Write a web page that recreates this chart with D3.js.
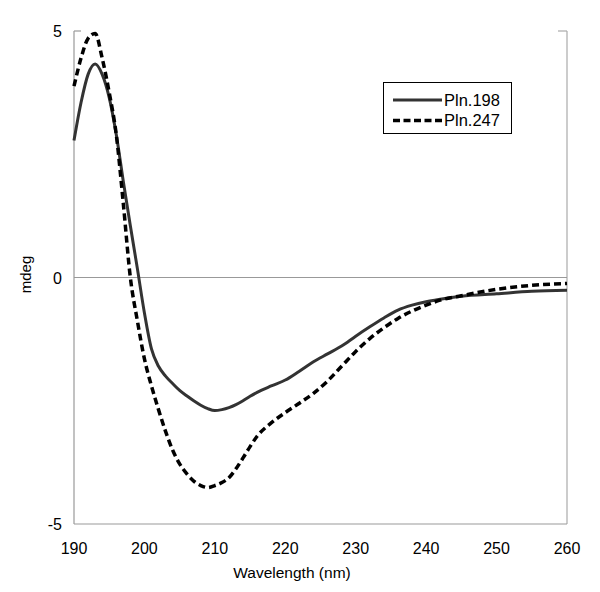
<!DOCTYPE html>
<html>
<head>
<meta charset="utf-8">
<script src="https://cdn.jsdelivr.net/npm/d3@7"></script>
<style>
  body { margin: 0; background: #fff; }
  text { font-family: "Liberation Sans", Arial, sans-serif; fill: #000; }
</style>
</head>
<body>
<script>
        // wavelengths (nm) and CD readings (mdeg)
        let wl198 = [190,191,192,193,194,195,196,197,198,199,200,201,202,203,204,205,206,207,208,209,210,211,212,213,214,215,216,218,220,222,224,226,228,230,232,234,236,238,240,242,245,250,255,260];
        let pln198 = [2.78,3.55,4.12,4.33,4.12,3.65,2.9,1.95,1.05,0.18,-0.72,-1.45,-1.8,-2.0,-2.15,-2.29,-2.4,-2.5,-2.59,-2.66,-2.7,-2.68,-2.64,-2.58,-2.5,-2.41,-2.33,-2.2,-2.08,-1.9,-1.71,-1.55,-1.39,-1.19,-1.0,-0.82,-0.66,-0.56,-0.49,-0.44,-0.38,-0.33,-0.28,-0.26];

        let wl247 = [190,191,192,193,194,195,196,197,198,199,200,201,202,203,204,205,206,207,208,209,210,211,212,213,214,215,216,218,220,222,224,226,228,230,232,234,236,238,240,242,245,250,255,260];
        let pln247 = [3.88,4.45,4.85,4.95,4.45,3.75,2.9,1.5,0.0,-0.88,-1.65,-2.2,-2.68,-3.12,-3.5,-3.78,-3.98,-4.13,-4.22,-4.26,-4.22,-4.16,-4.06,-3.88,-3.66,-3.43,-3.22,-2.95,-2.74,-2.55,-2.35,-2.1,-1.8,-1.5,-1.24,-1.02,-0.83,-0.68,-0.56,-0.46,-0.37,-0.24,-0.16,-0.12];

        let xTicks = [190,200,210,220,230,240,250,260];
        let yTicks = [-5,0,5];
        let seriesNames = ["Pln.198", "Pln.247"];

        let pLeft = 74, pRight = 567, pTop = 31, pBottom = 524;

        let svg = d3.select("body").append("svg")
            .attr("width", 600)
            .attr("height", 592);

        let x = d3.scaleLinear().domain([190,260]).range([pLeft,pRight]);
        let y = d3.scaleLinear().domain([-5,5]).range([pBottom,pTop]);

        // frame: left axis, bottom axis, right border, zero line
        svg.append("line").attr("x1", pLeft).attr("x2", pLeft).attr("y1", pTop).attr("y2", pBottom)
            .attr("stroke", "#999").attr("stroke-width", 1.2);
        svg.append("line").attr("x1", pRight).attr("x2", pRight).attr("y1", pTop).attr("y2", pBottom)
            .attr("stroke", "#aaa").attr("stroke-width", 1.2);
        svg.append("line").attr("x1", pLeft).attr("x2", pRight).attr("y1", pBottom).attr("y2", pBottom)
            .attr("stroke", "#999").attr("stroke-width", 1.2);
        svg.append("line").attr("x1", pLeft).attr("x2", pRight).attr("y1", y(0)).attr("y2", y(0))
            .attr("stroke", "#999").attr("stroke-width", 1.2);
        // little stubs at the top corners
        svg.append("line").attr("x1", pLeft).attr("x2", pLeft + 7).attr("y1", pTop).attr("y2", pTop)
            .attr("stroke", "#999").attr("stroke-width", 1.2);
        svg.append("line").attr("x1", pRight - 9).attr("x2", pRight).attr("y1", pTop).attr("y2", pTop)
            .attr("stroke", "#aaa").attr("stroke-width", 1.2);

        //tick labels
        xTicks.forEach(t =>
            svg.append("text")
                .attr("x", x(t))
                .attr("y", 554)
                .attr("text-anchor", "middle")
                .attr("font-size", 16)
                .text(t)
        );
        yTicks.forEach(t =>
            svg.append("text")
                .attr("x", 62)
                .attr("y", y(t) + 6)
                .attr("text-anchor", "end")
                .attr("font-size", 16)
                .text(t)
        );

        svg.append("text")
            .attr("x", 292)
            .attr("y", 578)
            .attr("text-anchor", "middle")
            .attr("font-size", 15.5)
            .text("Wavelength (nm)");

        svg.append("text")
            .attr("transform", "translate(31," + (y(0) - 3) + ") rotate(-90)")
            .attr("text-anchor", "middle")
            .attr("font-size", 15)
            .text("mdeg");

        let line = d3.line()
            .x(d => x(d[0]))
            .y(d => y(d[1]))
            .curve(d3.curveMonotoneX);

        svg.append("path")
            .datum(d3.zip(wl198, pln198))
            .attr("d", line)
            .attr("fill", "none")
            .attr("stroke", "#333")
            .attr("stroke-width", 3);

        svg.append("path")
            .datum(d3.zip(wl247, pln247))
            .attr("d", line)
            .attr("fill", "none")
            .attr("stroke", "#000")
            .attr("stroke-width", 3.5)
            .attr("stroke-dasharray", "7,4");

        //legend
        let lg = svg.append("g");
        lg.append("rect")
            .attr("x", 383.5).attr("y", 82.5)
            .attr("width", 128).attr("height", 51)
            .attr("fill", "#fff").attr("stroke", "#000").attr("stroke-width", 1);
        lg.append("line").attr("x1", 393).attr("x2", 442).attr("y1", 100).attr("y2", 100)
            .attr("stroke", "#333").attr("stroke-width", 3);
        lg.append("line").attr("x1", 393).attr("x2", 442).attr("y1", 120.5).attr("y2", 120.5)
            .attr("stroke", "#000").attr("stroke-width", 3.5).attr("stroke-dasharray", "7,3.5");
        seriesNames.forEach((n, i) =>
            lg.append("text")
                .attr("x", 444)
                .attr("y", 105.5 + i * 20.5)
                .attr("font-size", 16.5)
                .text(n)
        );
</script>
</body>
</html>
